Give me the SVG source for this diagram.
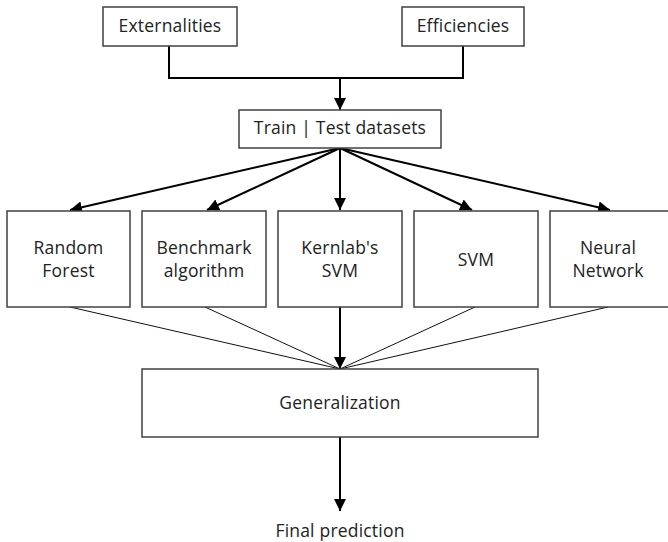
<svg xmlns="http://www.w3.org/2000/svg" width="668" height="542" viewBox="0 0 668 542">
<style>
.box{fill:#fff;stroke:#404040;stroke-width:1.5}
.t{font-family:"Open Sans",sans-serif;font-size:17.5px;letter-spacing:0.2px;fill:#222;text-anchor:middle}
.a{stroke:#000;stroke-width:2;fill:none}
.thin{stroke:#111;stroke-width:1;fill:none}
</style>
<defs>
<marker id="ah" viewBox="0 0 10 10" refX="10" refY="5" markerWidth="6" markerHeight="6" orient="auto" markerUnits="strokeWidth">
<path d="M0,0 L10,5 L0,10 z" fill="#000"/>
</marker>
</defs>
<rect width="668" height="542" fill="#fff"/>
<g id="connectors">
<path class="a" d="M169,46 V78 H463 V46"/>
<line class="a" x1="340" y1="78" x2="340" y2="110" marker-end="url(#ah)"/>
<line class="a" x1="340" y1="148" x2="70" y2="210" marker-end="url(#ah)"/>
<line class="a" x1="340" y1="148" x2="207" y2="210" marker-end="url(#ah)"/>
<line class="a" x1="340" y1="148" x2="340" y2="210" marker-end="url(#ah)"/>
<line class="a" x1="340" y1="148" x2="472" y2="210" marker-end="url(#ah)"/>
<line class="a" x1="340" y1="148" x2="610" y2="210" marker-end="url(#ah)"/>
<line class="thin" x1="70" y1="307" x2="340" y2="369"/>
<line class="thin" x1="205" y1="307" x2="340" y2="369"/>
<line class="thin" x1="475" y1="307" x2="340" y2="369"/>
<line class="thin" x1="608" y1="307" x2="340" y2="369"/>
<line class="a" x1="340" y1="307" x2="340" y2="369" marker-end="url(#ah)"/>
<line class="a" x1="340" y1="437" x2="340" y2="511" marker-end="url(#ah)"/>
</g>
<g id="externalities"><rect class="box" x="103" y="7" width="134" height="39"/><text class="t" x="170" y="32">Externalities</text></g>
<g id="efficiencies"><rect class="box" x="402" y="7" width="122" height="39"/><text class="t" x="463" y="32">Efficiencies</text></g>
<g id="traintest"><rect class="box" x="239" y="110" width="202" height="38"/><text class="t" x="340" y="134">Train | Test datasets</text></g>
<g id="randomforest"><rect class="box" x="7" y="211" width="123" height="96"/><text class="t" x="68.5" y="254">Random</text><text class="t" x="68.5" y="277">Forest</text></g>
<g id="benchmark"><rect class="box" x="142" y="211" width="124" height="96"/><text class="t" x="204" y="254">Benchmark</text><text class="t" x="204" y="277">algorithm</text></g>
<g id="kernlab"><rect class="box" x="278" y="211" width="124" height="96"/><text class="t" x="340" y="254">Kernlab's</text><text class="t" x="340" y="277">SVM</text></g>
<g id="svm"><rect class="box" x="414" y="211" width="124" height="96"/><text class="t" x="476" y="266">SVM</text></g>
<g id="neuralnetwork"><rect class="box" x="550" y="211" width="124" height="96"/><text class="t" x="608" y="254">Neural</text><text class="t" x="608" y="277">Network</text></g>
<g id="generalization"><rect class="box" x="142" y="369" width="396" height="68"/><text class="t" x="340" y="409">Generalization</text></g>
<g id="finalprediction"><text class="t" x="340" y="537">Final prediction</text></g>
</svg>
